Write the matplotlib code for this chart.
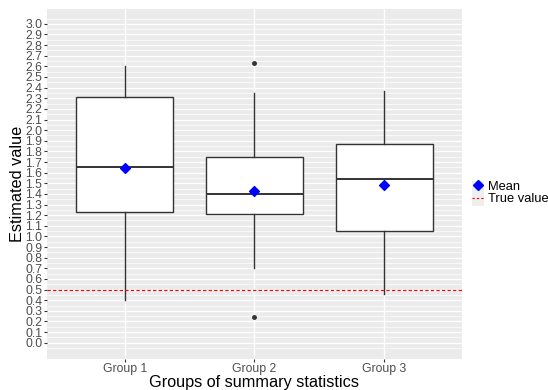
import matplotlib
matplotlib.use('Agg')
import matplotlib.pyplot as plt
import numpy as np
from matplotlib.lines import Line2D
from matplotlib.patches import Rectangle

plt.rcParams['font.family'] = ['Liberation Sans', 'DejaVu Sans']

# summary values
groups = ['Group 1', 'Group 2', 'Group 3']
whis_lo = [0.40, 0.70, 0.46]
q1 = [1.23, 1.21, 1.055]
med = [1.65, 1.40, 1.545]
q3 = [2.315, 1.745, 1.87]
whis_hi = [2.60, 2.35, 2.37]
means = [1.64, 1.43, 1.485]
outliers = [[], [2.63, 0.24], []]
true_value = 0.5

fig = plt.figure(figsize=(5.48, 3.90), dpi=100)
ax = fig.add_axes([0.0858, 0.0803, 0.843 - 0.0858, 0.977 - 0.0803])
ax.set_facecolor('#EBEBEB')

# grid: major at 0.1, minor in between
yt = np.round(np.arange(0, 3.01, 0.1), 1)
ax.set_yticks(yt)
ax.set_yticklabels(['%.1f' % v for v in yt])
ax.set_yticks(np.round(np.arange(-0.1, 3.11, 0.1), 2) - 0.05, minor=True)
ax.grid(True, which='major', axis='both', color='white', linewidth=1.0)
ax.grid(True, which='minor', axis='y', color='white', linewidth=0.5)
ax.tick_params(axis='y', which='minor', length=0)
ax.set_axisbelow(True)

stats = []
for i in range(3):
    stats.append({'med': med[i], 'q1': q1[i], 'q3': q3[i],
                  'whislo': whis_lo[i], 'whishi': whis_hi[i],
                  'fliers': outliers[i], 'label': groups[i]})

pos = [1, 2, 3]
ax.bxp(stats, positions=pos, widths=0.75, patch_artist=True,
       boxprops=dict(facecolor='white', edgecolor='#333333', linewidth=1.0),
       medianprops=dict(color='#333333', linewidth=1.4),
       whiskerprops=dict(color='#333333', linewidth=1.0),
       capprops=dict(linewidth=0),
       flierprops=dict(marker='o', markerfacecolor='#333333', markeredgecolor='#333333', markersize=2.5),
       showcaps=False, zorder=2)

ax.scatter(pos, means, marker='D', s=25, color='blue', zorder=4)
ax.axhline(true_value, color='red', linestyle=(0, (3, 2)), linewidth=0.8, zorder=3)

ax.set_xlim(0.4, 3.6)
ax.set_ylim(-0.15, 3.14)
ax.set_xticks(pos)
ax.set_xticklabels(groups)
for s in ax.spines.values():
    s.set_visible(False)
ax.tick_params(axis='both', which='major', colors='#333333', labelcolor='#4D4D4D',
               labelsize=8.8, length=2.5, width=0.8, pad=1.0)
ax.tick_params(axis='x', pad=0.5)
ax.set_xlabel('Groups of summary statistics', fontsize=11.7, labelpad=0)
ax.set_ylabel('Estimated value', fontsize=11.7, labelpad=0)

# legend key background
fig.patches.append(Rectangle((471.5 / 548, 1 - 206 / 390), 12.5 / 548, 25.5 / 390,
                             transform=fig.transFigure, facecolor='#EFEFEF',
                             edgecolor='none', zorder=0))
handles = [Line2D([], [], marker='D', color='blue', linestyle='none', markersize=5.2),
           Line2D([], [], color='red', linestyle=(0, (2, 2)), linewidth=0.8)]
leg = fig.legend(handles, ['Mean', 'True value'], loc='center left',
                 bbox_to_anchor=(472 / 548, 0.505), frameon=False, fontsize=9.3,
                 handlelength=0.95, handletextpad=0.3, labelspacing=0.05,
                 borderpad=0, borderaxespad=0)

fig.savefig('out.png', dpi=100)
